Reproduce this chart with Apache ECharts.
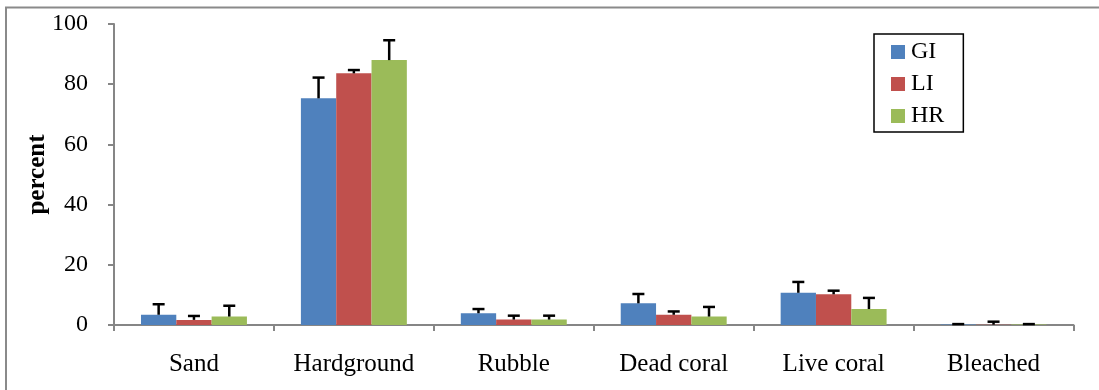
<!DOCTYPE html>
<html>
<head>
<meta charset="utf-8">
<script src="https://cdn.jsdelivr.net/npm/echarts@6/dist/echarts.min.js"></script>
<style>
html,body{margin:0;padding:0;background:#fff;}
#c{width:1099px;height:390px;}
</style>
</head>
<body>
<div id="c"></div>
<script>
const categories = ['Sand', 'Hardground', 'Rubble', 'Dead coral', 'Live coral', 'Bleached'];
const seriesNames = ['GI', 'LI', 'HR'];
const giValues = [3.4, 75.3, 3.9, 7.2, 10.7, 0.2];
const liValues = [1.7, 83.6, 1.8, 3.4, 10.2, 0.1];
const hrValues = [2.8, 88.0, 1.8, 2.8, 5.3, 0.2];
const giErrors = [3.5, 6.9, 1.4, 3.1, 3.6, 0.1];
const liErrors = [1.3, 1.1, 1.3, 1.1, 1.2, 1.0];
const hrErrors = [3.6, 6.6, 1.3, 3.2, 3.7, 0.1];
const yTicks = [0, 20, 40, 60, 80, 100];

const colors = ['#4F81BD', '#C0504D', '#9BBB59'];
const values = [giValues, liValues, hrValues];
const errors = [giErrors, liErrors, hrErrors];
const catGap = 0.3375;
const font = 'Liberation Serif, Times New Roman, serif';

const chart = echarts.init(document.getElementById('c'), null, {renderer: 'canvas'});

const barSeries = seriesNames.map((n, i) => ({
  name: n,
  type: 'bar',
  data: values[i],
  barGap: '0%',
  barCategoryGap: (catGap * 100) + '%',
  itemStyle: {color: colors[i]},
  z: 2
}));

const errSeries = seriesNames.map((n, i) => ({
  name: n + ' err',
  type: 'custom',
  data: categories.map((c, j) => [j, values[i][j], values[i][j] + errors[i][j]]),
  encode: {x: 0, y: [1, 2]},
  z: 5,
  silent: true,
  renderItem: function (params, api) {
    const catW = api.size([1, 0])[0];
    const bw = catW * (1 - catGap) / 3;
    const p0 = api.coord([api.value(0), api.value(1)]);
    const p1 = api.coord([api.value(0), api.value(2)]);
    const x = p0[0] + (i - 1) * bw;
    const half = 6;
    return {
      type: 'group',
      children: [
        {type: 'line', shape: {x1: x, y1: p0[1], x2: x, y2: p1[1]}, style: {stroke: '#000', lineWidth: 2.5}},
        {type: 'line', shape: {x1: x - half, y1: p1[1], x2: x + half, y2: p1[1]}, style: {stroke: '#000', lineWidth: 2.5}}
      ]
    };
  }
}));

chart.setOption({
  animation: false,
  backgroundColor: '#fff',
  textStyle: {fontFamily: font},
  graphic: [{
    type: 'rect',
    shape: {x: 6, y: 7.5, width: 1200, height: 500},
    style: {fill: 'none', stroke: '#8a8a8a', lineWidth: 2},
    z: 0
  }],
  grid: {left: 114, right: 25.5, top: 24, bottom: 65, containLabel: false},
  legend: {
    data: seriesNames,
    orient: 'vertical',
    left: 874,
    top: 34,
    itemWidth: 14,
    itemHeight: 14,
    itemGap: 8,
    padding: [6, 19, 4, 17],
    borderColor: '#000',
    borderWidth: 1.5,
    backgroundColor: '#fff',
    icon: 'rect',
    textStyle: {fontFamily: font, fontSize: 24, color: '#000', padding: [0, 0, 0, 1]}
  },
  xAxis: {
    type: 'category',
    data: categories,
    axisLine: {lineStyle: {color: '#868686', width: 2}},
    axisTick: {show: true, interval: 0, alignWithLabel: false, length: 6, lineStyle: {color: '#868686', width: 2}},
    axisLabel: {interval: 0, hideOverlap: false, fontFamily: font, fontSize: 25, color: '#000', margin: 27},
    splitLine: {show: false}
  },
  yAxis: {
    type: 'value',
    min: yTicks[0],
    max: yTicks[yTicks.length - 1],
    interval: yTicks[1] - yTicks[0],
    name: 'percent',
    nameLocation: 'middle',
    nameRotate: 90,
    nameGap: 64,
    nameMoveOverlap: false,
    nameTextStyle: {fontFamily: font, fontSize: 25, fontWeight: 'bold', color: '#000'},
    axisLine: {show: true, lineStyle: {color: '#868686', width: 2}},
    axisTick: {show: true, length: 6, lineStyle: {color: '#868686', width: 2}},
    axisLabel: {fontFamily: font, fontSize: 24, color: '#000', margin: 26},
    splitLine: {show: false}
  },
  series: barSeries.concat(errSeries)
});
</script>
</body>
</html>
